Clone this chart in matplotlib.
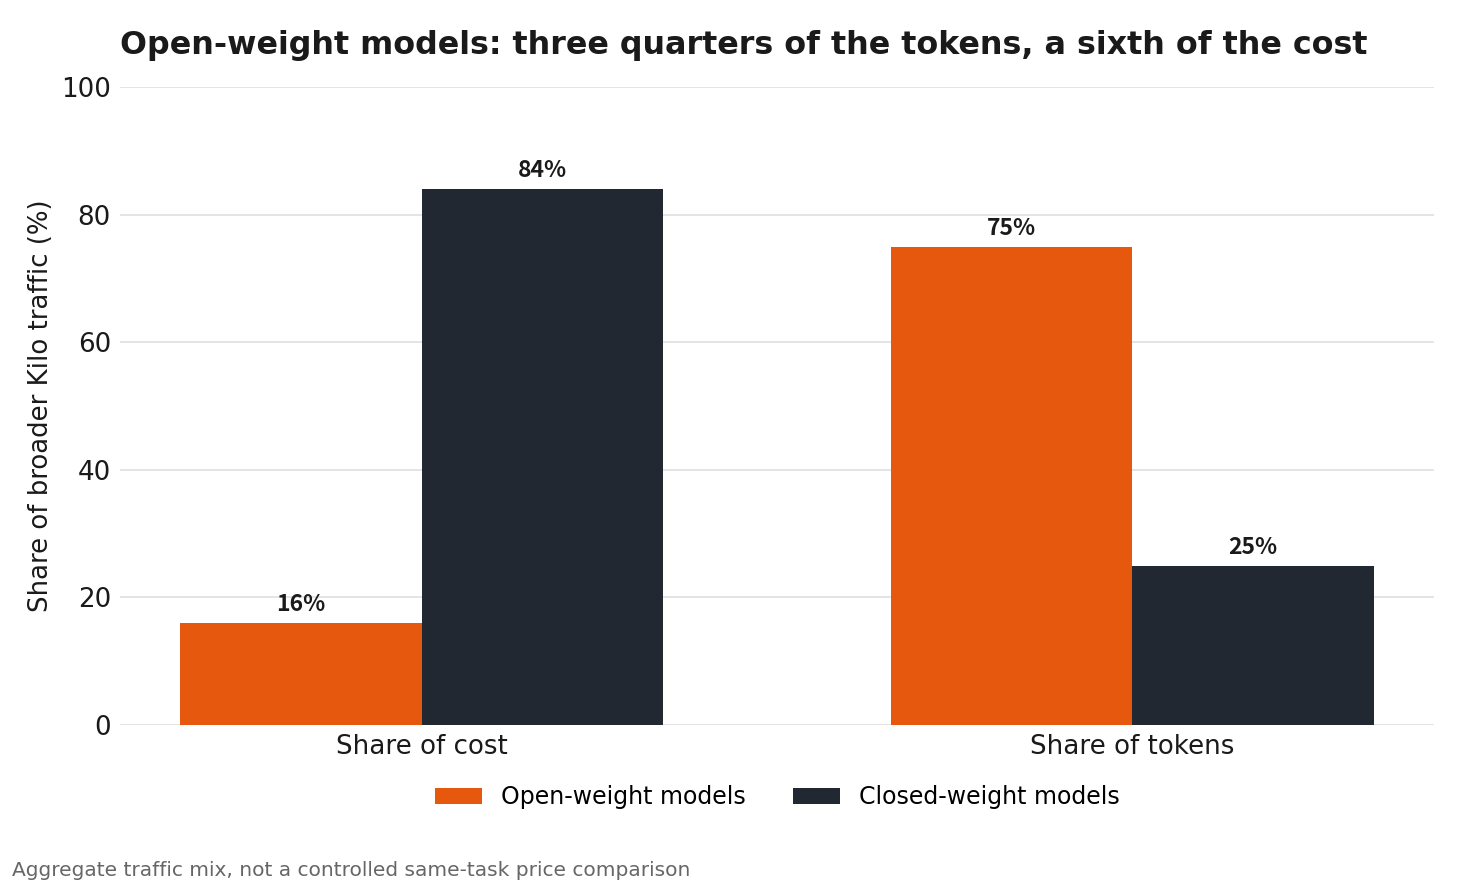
import numpy as np
import matplotlib.pyplot as plt

# data
categories = ['Share of cost', 'Share of tokens']
open_weight = [16, 75]
closed_weight = [84, 25]
series_names = ['Open-weight models', 'Closed-weight models']

ORANGE = '#e5580e'
DARK = '#212831'

fig = plt.figure(figsize=(14.62, 8.84), dpi=100)
ax = fig.add_axes([120/1462, 1 - 725/884, (1434-120)/1462, (725-87)/884])

x = np.arange(len(categories))
w = 0.34
b1 = ax.bar(x - w/2, open_weight, w, color=ORANGE, label=series_names[0], zorder=3)
b2 = ax.bar(x + w/2, closed_weight, w, color=DARK, label=series_names[1], zorder=3)

for bars in (b1, b2):
    for r in bars:
        ax.annotate(f'{r.get_height():.0f}%', (r.get_x() + r.get_width()/2, r.get_height()),
                    xytext=(0, 5), textcoords='offset points', ha='center', va='bottom',
                    fontsize=16.5, fontweight='bold', color='#1a1a1a',
                    family=['Noto Sans CJK SC', 'DejaVu Sans'])

ax.set_xlim(-0.425, 1.425)
ax.set_ylim(0, 100)
ax.set_yticks([0, 20, 40, 60, 80, 100])
ax.set_xticks(x)
ax.set_xticklabels(categories)
ax.tick_params(axis='both', length=0, labelsize=18.8, colors='#1a1a1a', pad=6.5)
ax.set_ylabel('Share of broader Kilo traffic (%)', fontsize=18.7, color='#1a1a1a', labelpad=5)
ax.grid(axis='y', color='#e2e2e2', linewidth=1.3, zorder=0)
for s in ax.spines.values():
    s.set_visible(False)

ax.set_title('Open-weight models: three quarters of the tokens, a sixth of the cost',
             fontsize=22.9, fontweight='bold', color='#1a1a1a', loc='left', pad=24)

ax.legend(loc='upper center', bbox_to_anchor=(0.5, -0.061), ncol=2, frameon=False,
          fontsize=17, handlelength=2.0, columnspacing=2.0)

fig.text(12/1462, 1 - 871/884, 'Aggregate traffic mix, not a controlled same-task price comparison',
         fontsize=14.5, color='#666666', va='center')

fig.savefig('out.png', dpi=100, facecolor='white')
